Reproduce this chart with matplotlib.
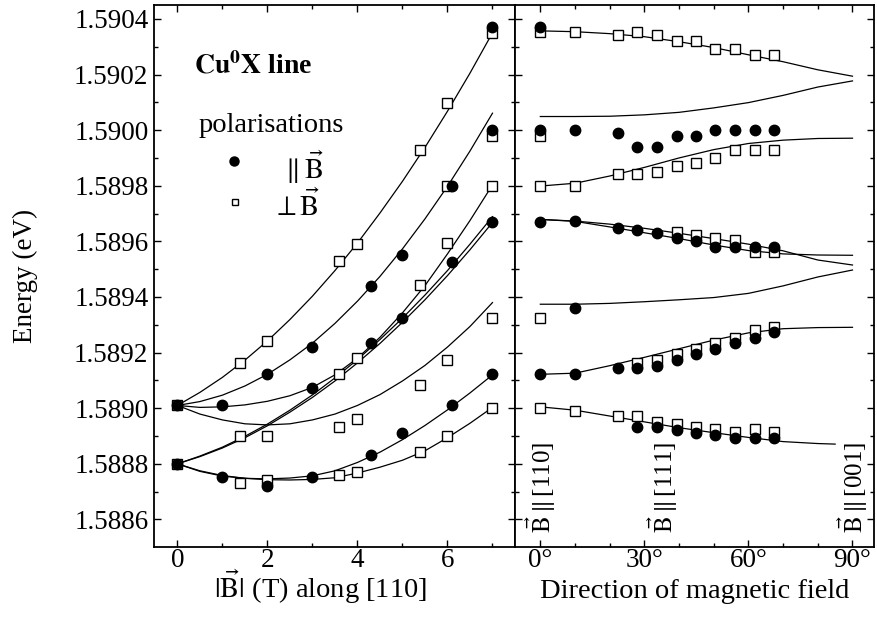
import matplotlib
matplotlib.use("Agg")
import matplotlib.pyplot as plt
from matplotlib.ticker import MultipleLocator, FormatStrFormatter

plt.rcParams['font.family'] = ['Liberation Serif', 'DejaVu Serif']
plt.rcParams['mathtext.fontset'] = 'stix'

# ---- left panel: field strength along [110] ----
b_curve = [0, 0.5, 1, 1.5, 2, 2.5, 3, 3.5, 4, 4.5, 5, 5.5, 6, 6.5, 7]
curve_a = [1.589010, 1.589057, 1.589111, 1.589173, 1.589242, 1.589319, 1.589403, 1.589495,
           1.589594, 1.589702, 1.589816, 1.589938, 1.590068, 1.590205, 1.590350]
curve_b = [1.589010, 1.589024, 1.589047, 1.589080, 1.589122, 1.589174, 1.589234, 1.589305,
           1.589385, 1.589474, 1.589573, 1.589681, 1.589798, 1.589925, 1.590061]
curve_c = [1.589010, 1.589003, 1.589005, 1.589012, 1.589025, 1.589045, 1.589075, 1.589120,
           1.589180, 1.589255, 1.589343, 1.589441, 1.589555, 1.589675, 1.589803]
curve_d = [1.588800, 1.588828, 1.588860, 1.588899, 1.588943, 1.588993, 1.589048, 1.589109,
           1.589175, 1.589247, 1.589324, 1.589407, 1.589495, 1.589590, 1.589689]
curve_e = [1.588800, 1.588826, 1.588857, 1.588894, 1.588937, 1.588986, 1.589039, 1.589098,
           1.589163, 1.589233, 1.589309, 1.589390, 1.589477, 1.589570, 1.589668]
curve_f = [1.589010, 1.588979, 1.588958, 1.588944, 1.588940, 1.588944, 1.588958, 1.588979,
           1.589010, 1.589049, 1.589098, 1.589154, 1.589220, 1.589294, 1.589380]
curve_g = [1.588800, 1.588773, 1.588756, 1.588748, 1.588746, 1.588749, 1.588757, 1.588775,
           1.588805, 1.588842, 1.588887, 1.588938, 1.588994, 1.589055, 1.589120]
curve_h = [1.588800, 1.588775, 1.588758, 1.588748, 1.588743, 1.588742, 1.588744, 1.588750,
           1.588767, 1.588788, 1.588813, 1.588847, 1.588894, 1.588946, 1.589003]
left_curves = [curve_a, curve_b, curve_c, curve_d, curve_e, curve_f, curve_g, curve_h]

# measured lines, polarisation parallel to B (filled circles)
b_par = [0, 0, 1, 2, 3, 4.29, 5, 6.1, 7, 7, 7, 6.1, 3, 4.29, 5, 7, 6.1, 5, 4.29, 1, 2, 3]
e_par = [1.589010, 1.588800, 1.589012, 1.589122, 1.589221, 1.589440, 1.589551, 1.589800,
         1.590372, 1.590001, 1.589671, 1.589527, 1.589071, 1.589233, 1.589323, 1.589122,
         1.589012, 1.588912, 1.588832, 1.588751, 1.588720, 1.588751]
# polarisation perpendicular to B (open squares)
b_perp = [0, 0, 1.4, 2, 3.6, 4, 5.4, 6, 7, 7, 6, 7, 6, 5.4, 4, 3.6, 7, 6, 5.4, 7, 4, 3.6,
          1.4, 2, 6, 5.4, 1.4, 2, 3.6, 4]
e_perp = [1.589010, 1.588800, 1.589161, 1.589242, 1.589531, 1.589591, 1.589929, 1.590099,
          1.590350, 1.589979, 1.589799, 1.589800, 1.589593, 1.589443, 1.589182, 1.589122,
          1.589323, 1.589173, 1.589083, 1.589002, 1.588961, 1.588931, 1.588901, 1.588900,
          1.588900, 1.588841, 1.588732, 1.588742, 1.588760, 1.588769]

# ---- right panel: rotation of the field from [110] to [001] ----
ang_curve = [0, 10, 20, 30, 40, 50, 60, 70, 80, 90]
rot_1 = [1.590357, 1.590354, 1.590347, 1.590336, 1.590318, 1.590297, 1.590271, 1.590246, 1.590217, 1.590194]
rot_2 = [1.590049, 1.590049, 1.590050, 1.590055, 1.590064, 1.590080, 1.590099, 1.590125, 1.590155, 1.590177]
rot_3 = [1.589799, 1.589809, 1.589835, 1.589866, 1.589900, 1.589930, 1.589952, 1.589964, 1.589970, 1.589971]
rot_4 = [1.589679, 1.589673, 1.589662, 1.589647, 1.589629, 1.589610, 1.589590, 1.589566, 1.589533, 1.589515]
rot_5 = [1.589679, 1.589672, 1.589652, 1.589631, 1.589610, 1.589587, 1.589567, 1.589555, 1.589551, 1.589550]
rot_6 = [1.589374, 1.589374, 1.589377, 1.589383, 1.589390, 1.589398, 1.589413, 1.589440, 1.589472, 1.589497]
rot_7 = [1.589122, 1.589126, 1.589153, 1.589183, 1.589214, 1.589245, 1.589271, 1.589286, 1.589290, 1.589291]
rot_curves = [rot_1, rot_2, rot_3, rot_4, rot_5, rot_6, rot_7]
ang_low = [0, 10, 20, 30, 40, 50, 60, 70, 80, 85]
rot_8 = [1.589005, 1.588993, 1.588972, 1.588951, 1.588930, 1.588912, 1.588895, 1.588880, 1.588873, 1.588871]

ang_pts = [0, 10, 22.5, 28, 33.5, 39.5, 45, 50.5, 56, 62, 67.5]
# filled circles
rp_mid = [1.590001, 1.590001, 1.589991, 1.589941, 1.589941, 1.589980, 1.589980, 1.590001, 1.590001, 1.590001, 1.590001]
rp_four = [1.589671, 1.589673, 1.589649, 1.589640, 1.589631, 1.589611, 1.589601, 1.589581, 1.589581, 1.589581, 1.589581]
rp_two = [1.589122, 1.589122, 1.589143, 1.589143, 1.589153, 1.589173, 1.589194, 1.589212, 1.589233, 1.589254, 1.589273]
rp_low = [1.588933, 1.588933, 1.588922, 1.588912, 1.588904, 1.588892, 1.588892, 1.588892]
rp_extra_ang = [0, 10]
rp_extra = [1.590372, 1.589362]
# open squares
rs_top = [1.590352, 1.590352, 1.590342, 1.590352, 1.590342, 1.590321, 1.590322, 1.590291, 1.590291, 1.590270, 1.590270]
rs_three = [1.589799, 1.589799, 1.589841, 1.589841, 1.589851, 1.589872, 1.589881, 1.589901, 1.589929, 1.589929, 1.589929]
rs_four = [1.589633, 1.589623, 1.589611, 1.589605, 1.589561, 1.589561]
rs_two = [1.589164, 1.589173, 1.589195, 1.589213, 1.589233, 1.589251, 1.589281, 1.589293]
rs_low = [1.589002, 1.588991, 1.588973, 1.588973, 1.588951, 1.588943, 1.588933, 1.588924, 1.588913, 1.588924, 1.588913]
rs_extra_ang = [0, 0]
rs_extra = [1.589980, 1.589323]

ylim = (1.588501, 1.59045)
fs = 19.5
line_kw = dict(color='black', lw=0.9, zorder=2)
dot_kw = dict(ls='none', marker='o', ms=7.5, mfc='black', mec='black', zorder=4)
sq_kw = dict(ls='none', marker='s', ms=7, mfc='white', mec='black', mew=1.0, zorder=3)

fig = plt.figure(figsize=(8.77, 6.22), dpi=100)
ax1 = fig.add_axes([154 / 877, 75 / 622, 361 / 877, 542 / 622])
ax2 = fig.add_axes([515 / 877, 75 / 622, 359 / 877, 542 / 622])

for c in left_curves:
    ax1.plot(b_curve, c, **line_kw)
ax1.plot(b_perp, e_perp, **sq_kw)
ax1.plot(b_par, e_par, **dot_kw)

for c in rot_curves:
    ax2.plot(ang_curve, c, **line_kw)
ax2.plot(ang_low, rot_8, **line_kw)
ax2.plot(ang_pts, rs_top, **sq_kw)
ax2.plot(ang_pts, rs_three, **sq_kw)
ax2.plot(ang_pts[5:], rs_four, **sq_kw)
ax2.plot(ang_pts[3:], rs_two, **sq_kw)
ax2.plot(ang_pts, rs_low, **sq_kw)
ax2.plot(rs_extra_ang, rs_extra, **sq_kw)
ax2.plot(ang_pts, rp_mid, **dot_kw)
ax2.plot(ang_pts, rp_four, **dot_kw)
ax2.plot(ang_pts, rp_two, **dot_kw)
ax2.plot(ang_pts[3:], rp_low, **dot_kw)
ax2.plot(rp_extra_ang, rp_extra, **dot_kw)

for ax in (ax1, ax2):
    ax.set_ylim(ylim)
    ax.yaxis.set_major_locator(MultipleLocator(0.0002))
    ax.yaxis.set_minor_locator(MultipleLocator(0.0001))
    ax.tick_params(which='both', direction='in', top=True, right=True, width=1.0)
    ax.tick_params(which='major', length=5, labelsize=fs, pad=4)
    ax.tick_params(which='minor', length=3)
    ax.tick_params(axis='x', which='major', pad=1)
    for s in ax.spines.values():
        s.set_linewidth(1.3)

ax1.set_xlim(-0.52, 7.5)
ax1.xaxis.set_major_locator(MultipleLocator(2))
ax1.xaxis.set_minor_locator(MultipleLocator(1))
ax1.yaxis.set_major_formatter(FormatStrFormatter('%.4f'))
ax1.set_ylabel('Energy (eV)', fontsize=fs, labelpad=26)
ax1.set_xlabel(r'$|\vec{\mathrm{B}}|$ (T) along [110]', fontsize=20.5)
ax1.xaxis.set_label_coords(0.46, -0.095)
ax1.xaxis.label.set_va('baseline')

ax2.set_xlim(-7.3, 96.2)
ax2.set_xticks([0, 30, 60, 90])
ax2.set_xticklabels(['0°', '30°', '60°', '90°'])
ax2.xaxis.set_minor_locator(MultipleLocator(10))
ax2.tick_params(labelleft=False)
ax2.set_xlabel('Direction of magnetic field', fontsize=20.5)
ax2.xaxis.set_label_coords(0.5, -0.095)
ax2.xaxis.label.set_va('baseline')

ax1.text(0.36, 1.590231, r'$\mathbf{Cu^{0}X}$ line', fontsize=20, fontweight='bold', va='center')
ax1.text(0.47, 1.590017, 'polarisations', fontsize=20.5, va='center')
ax1.plot([1.25], [1.58989], ls='none', marker='o', ms=6.5, color='black')
ax1.plot([1.27], [1.589742], ls='none', marker='s', ms=5, mfc='white', mec='black', mew=1.0)
ax1.text(2.3, 1.589868, r'$\parallel\vec{\mathrm{B}}$', fontsize=20.5, va='center')
ax1.text(2.1, 1.589728, r'$\perp\vec{\mathrm{B}}$', fontsize=20.5, va='center')

for ang, lab in [(0, '[110]'), (35.26, '[111]'), (90, '[001]')]:
    ax2.text(ang, 1.58855, r'$\vec{\mathrm{B}}\parallel$' + lab, rotation=90,
             ha='center', va='bottom', fontsize=18)

fig.savefig('out.png', dpi=100)
